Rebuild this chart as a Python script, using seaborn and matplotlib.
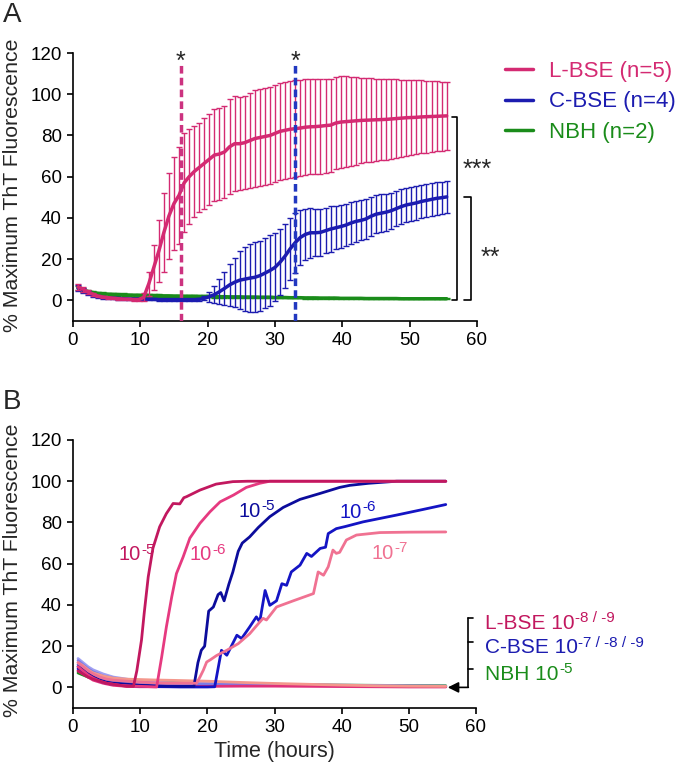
import matplotlib
matplotlib.use("Agg")
import matplotlib.pyplot as plt
import seaborn as sns
from matplotlib.lines import Line2D

# ---- Panel A: mean +/- SD, sampled every 45 min ----
hours_a = [0.75, 1.5, 2.25, 3.0, 3.75, 4.5, 5.25, 6.0, 6.75, 7.5, 8.25, 9.0, 9.75, 10.5,
           11.25, 12.0, 12.75, 13.5, 14.25, 15.0, 15.75, 16.5, 17.25, 18.0, 18.75, 19.5,
           20.25, 21.0, 21.75, 22.5, 23.25, 24.0, 24.75, 25.5, 26.25, 27.0, 27.75, 28.5,
           29.25, 30.0, 30.75, 31.5, 32.25, 33.0, 33.75, 34.5, 35.25, 36.0, 36.75, 37.5,
           38.25, 39.0, 39.75, 40.5, 41.25, 42.0, 42.75, 43.5, 44.25, 45.0, 45.75, 46.5,
           47.25, 48.0, 48.75, 49.5, 50.25, 51.0, 51.75, 52.5, 53.25, 54.0, 54.75, 55.5]

lbse_mean = [6.5, 5.5, 4, 3, 2, 1.6, 1.3, 1.0, 0.8, 0.6,
             0.5, 0.4, 0.4, 1.5, 8, 16, 24, 33, 41, 47,
             51, 57, 60, 62.5, 64.5, 66.5, 68.5, 70.5, 71, 72,
             74.5, 76, 76, 76.5, 77.5, 78.5, 79, 79.5, 80, 81,
             82, 82.5, 83, 83.3, 83.6, 84, 84.2, 84.3, 84.5, 84.8,
             85, 86, 86.5, 86.7, 86.9, 87.1, 87.3, 87.4, 87.5, 87.6,
             87.7, 87.8, 88, 88.2, 88.4, 88.6, 88.7, 88.8, 89, 89.1,
             89.2, 89.3, 89.4, 89.5]
lbse_sd = [1.5, 1.2, 1, 0.8, 0.6, 0.5, 0.5, 0.5, 0.5, 0.5,
           0.5, 0.5, 0.5, 2, 6, 11, 15, 19, 21, 22.5,
           23.5, 24, 23, 22, 21.5, 22, 22, 22.5, 22.5, 22.5,
           23, 23, 22.5, 22.5, 23, 23.5, 23.5, 23.5, 23.5, 23.5,
           23.5, 23.5, 23.5, 23.5, 23.5, 23.2, 23, 23, 23, 22.8,
           22.6, 22.4, 22.2, 22, 21.6, 21.2, 20.8, 20.5, 20.2, 20,
           19.8, 19.5, 19.2, 19, 18.7, 18.4, 18.2, 18, 17.7, 17.4,
           17.1, 16.9, 16.7, 16.5]

cbse_mean = [6, 5, 3.5, 2.5, 1.8, 1.4, 1.2, 1.0, 0.9, 0.8,
             0.7, 0.6, 0.6, 0.5, 0.5, 0.5, 0.4, 0.4, 0.4, 0.4,
             0.4, 0.4, 0.4, 0.4, 0.5, 1, 1.8, 2.8, 4.2, 5.8,
             7.5, 8.8, 9.8, 10.3, 10.8, 11.2, 12, 13.2, 14.5, 16,
             18.5, 21.5, 25, 28, 30.5, 32, 32.8, 32.8, 33, 33.8,
             34.6, 35.2, 35.8, 36.5, 37.5, 38.3, 38.8, 39.5, 40.8, 41.8,
             42.3, 42.8, 43.5, 44.5, 45.5, 46.3, 46.8, 47.3, 48, 48.5,
             49, 49.5, 49.8, 50.2]
cbse_sd = [1.5, 1.2, 1, 0.8, 0.7, 0.6, 0.6, 0.5, 0.5, 0.5,
           0.5, 0.5, 0.5, 0.5, 0.5, 0.5, 0.5, 0.5, 0.5, 0.5,
           0.5, 0.5, 0.5, 0.5, 0.6, 1, 2.5, 4, 6, 8,
           10, 12, 14, 15.5, 16.5, 17, 17, 17, 17, 16.5,
           16, 15.5, 15, 14.5, 13.5, 12.5, 12, 11.5, 11.5, 11,
           11, 10.5, 10.5, 10.3, 10.1, 9.9, 9.7, 9.6, 9.5, 9.3,
           9.1, 9, 8.8, 8.6, 8.5, 8.4, 8.3, 8.2, 8.1, 8,
           8, 7.9, 7.8, 7.8]

nbh_mean = [6, 5, 4.3, 3.8, 3.4, 3.2, 3.0, 2.9, 2.8, 2.7,
            2.6, 2.5, 2.5, 2.4, 2.4, 2.3, 2.3, 2.2, 2.2, 2.1,
            2.1, 2.0, 2.0, 2.0, 1.9, 1.9, 1.9, 1.8, 1.8, 1.8,
            1.7, 1.7, 1.7, 1.6, 1.6, 1.6, 1.5, 1.5, 1.5, 1.4,
            1.4, 1.4, 1.3, 1.3, 1.3, 1.2, 1.2, 1.2, 1.1, 1.1,
            1.1, 1.1, 1.0, 1.0, 1.0, 1.0, 1.0, 0.9, 0.9, 0.9,
            0.9, 0.9, 0.9, 0.9, 0.8, 0.8, 0.8, 0.8, 0.8, 0.8,
            0.8, 0.8, 0.8, 0.8]
nbh_sd = [1.2, 1.0, 0.9, 0.8, 0.8, 0.8, 0.7, 0.7, 0.7, 0.7,
          0.7, 0.7, 0.7, 0.7, 0.7, 0.6, 0.6, 0.6, 0.6, 0.6,
          0.6, 0.6, 0.5, 0.5, 0.5, 0.5, 0.5, 0.5, 0.5, 0.5,
          0.4, 0.4, 0.4, 0.4, 0.4, 0.4, 0.4, 0.4, 0.4, 0.4,
          0.3, 0.3, 0.3, 0.3, 0.3, 0.3, 0.3, 0.3, 0.3, 0.3,
          0.3, 0.3, 0.3, 0.3, 0.3, 0.3, 0.3, 0.3, 0.3, 0.3,
          0.2, 0.2, 0.2, 0.2, 0.2, 0.2, 0.2, 0.2, 0.2, 0.2,
          0.2, 0.2, 0.2, 0.2]

legend_a = ["L-BSE (n=5)", "C-BSE (n=4)", "NBH (n=2)"]
lag_times = [16, 33]  # dashed markers

# ---- Panel B: single dilutions ----
l5_t = [0.75, 1.5, 2.25, 3, 4, 5, 6, 7, 8, 9, 9.5, 10.2, 10.6, 11.2, 11.9, 12.9, 13.9,
        14.9, 15.9, 16.5, 16.9, 18.9, 21.3, 23.8, 26, 30, 40, 50, 55.5]
l5_v = [8, 6.5, 5, 4, 3, 2, 1.5, 1, 0.5, 0.5, 8, 23, 36, 53.6, 67.5, 77.9, 84.3,
        89.2, 89, 92, 92.5, 95.7, 98.6, 99.8, 100, 100, 100, 100, 100]
l6_t = [0.75, 1.5, 2.25, 3, 4, 5, 6, 7, 8, 9, 10, 11, 12.45, 13.2, 13.9, 14.7, 15.4,
        16.4, 17.4, 18.9, 20.4, 21.9, 23.9, 25.8, 27.8, 29.3, 35, 45, 55.5]
l6_v = [10, 8, 6, 4.5, 3, 2, 1.5, 1, 0.8, 0.6, 0.5, 0.4, 0.2, 14.7, 29.3, 43.9, 55.2,
        63.3, 72.4, 79.6, 85.2, 90, 93.3, 97, 99, 100, 100, 100, 100]
l7_t = [0.75, 1.5, 2.25, 3, 4, 5, 6, 8, 10, 12, 14, 16, 17.5, 18.4, 18.9, 19.4, 19.9,
        20.5, 21.4, 22.9, 24.6, 26.3, 27.8, 28.3, 28.8, 30.3, 32.8, 35.8, 36.5, 37.3,
        38.0, 38.7, 39.2, 39.7, 40.7, 42.2, 45.7, 50, 55.5]
l7_v = [12, 10, 8, 6.5, 5, 4, 3.5, 3, 2.5, 2.2, 2, 2, 2, 2, 5, 8.3, 12.3,
        13.5, 15.5, 18, 21.2, 26, 31.7, 33.5, 32.7, 39, 42, 45.5, 56, 54.4,
        58.5, 66.6, 65, 65.5, 71.5, 73.9, 75.1, 75.3, 75.4]
c5_t = [0.75, 1.5, 2.25, 3, 4, 5, 6, 8, 10, 12, 14, 16, 18.0, 18.6, 19.1, 19.6, 20.2,
        20.9, 21.6, 22.0, 22.5, 23.2, 23.8, 24.6, 25.2, 26.3, 27.6, 29.3, 31.3, 33.8,
        36.8, 39.7, 41.2, 44, 48.2, 55.5]
c5_v = [10, 8.5, 7, 5, 3.5, 2.5, 2, 1.5, 1, 0.8, 0.6, 0.5, 0.5, 12, 18, 20, 37,
        39, 45, 46, 42, 50, 56, 66, 70, 73, 77.6, 82.8, 87.3, 91.2,
        94.1, 97, 98, 99, 100, 100]
c6_t = [0.75, 1.5, 2.25, 3, 4, 5, 6, 8, 10, 12, 14, 16, 18, 20, 21.1, 22.1, 22.9, 24.4,
        25.1, 26.3, 27.3, 27.8, 28.6, 29.3, 30.3, 31.1, 31.8, 32.5, 33.8, 34.8, 35.5,
        36.8, 37.6, 38.0, 39.2, 40.5, 43.2, 48.2, 52.1, 55.5]
c6_v = [9, 7.5, 6, 4.5, 3, 2, 1.5, 1, 0.6, 0.4, 0.3, 0.2, 0.2, 0.2, 0.3, 18, 15.6, 25.3,
        23.7, 29.3, 34.2, 31.8, 47, 39.8, 42, 50.3, 49.5, 56, 59.3, 65, 63.5,
        67.4, 68, 74.6, 77, 78, 80.3, 83.6, 86.3, 88.7]

flat_t = [0.75, 1.5, 2.25, 3, 4.5, 6, 8, 10, 12, 15, 20, 25, 30, 35, 40, 45, 50, 55.5]
nbh5_v = [7, 6, 5, 4.5, 3.8, 3.3, 3, 2.8, 2.6, 2.4, 2.1, 1.8, 1.5, 1.3, 1.1, 1, 0.9, 0.8]
c7_v = [13, 11, 9, 7.5, 5.5, 4.5, 3.5, 2.5, 2, 1.8, 1.6, 1.5, 1.3, 1.1, 0.9, 0.7, 0.6, 0.5]
c8_v = [14, 12, 10, 8.5, 6.5, 5, 4, 3, 2.5, 2.2, 2, 1.8, 1.5, 1.3, 1.1, 0.9, 0.7, 0.6]
c9_v = [11, 9.5, 7.5, 6, 4, 3, 2, 1.5, 1.3, 1.2, 1.1, 1.1, 1, 0.9, 0.8, 0.7, 0.6, 0.5]
l9_v = [8, 6.5, 5, 3.5, 2, 1, 0.5, 0.3, 0.3, 0.4, 0.5, 0.6, 0.6, 0.5, 0.4, 0.3, 0.2, 0.2]
l8_v = [12, 10.5, 8.5, 7, 5.5, 4.5, 4, 3.8, 3.6, 3.4, 3, 2.4, 1.9, 1.5, 1.1, 0.8, 0.6, 0.5]

# colours
pink, blue, green = "#d42a72", "#1c1cb0", "#1a8c1a"
dark_pink, mid_pink, light_pink, salmon = "#c2185f", "#e63a80", "#f07292", "#f4978c"
dark_blue, blue2 = "#0c0c9c", "#1414c4"

sns.set_style("ticks")
plt.rcParams["font.family"] = ["Liberation Sans", "DejaVu Sans"]


def label_with_exp(ax, x, y, base, exp, color, fs, efs):
    # base text plus a raised exponent (plain hyphens, like the original)
    t = ax.text(x, y, base, color=color, fontsize=fs, clip_on=False)
    ax.annotate(exp, xy=(1.0, 0.55), xycoords=t, xytext=(0.5, 0), textcoords="offset points",
                color=color, fontsize=efs, va="baseline", ha="left", annotation_clip=False)


fig = plt.figure(figsize=(6.8, 7.69), dpi=100)
axA = fig.add_axes([73 / 680, 1 - 321 / 769, 404 / 680, 268 / 769])
axB = fig.add_axes([73 / 680, 1 - 708 / 769, 403 / 680, 268 / 769])

# Panel A
for mean, sd, c in [(nbh_mean, nbh_sd, green), (cbse_mean, cbse_sd, blue), (lbse_mean, lbse_sd, pink)]:
    axA.errorbar(hours_a, mean, yerr=sd, fmt="none", ecolor=c, elinewidth=1,
                 capsize=2.5, capthick=1)
    sns.lineplot(x=hours_a, y=mean, color=c, lw=2.5, ax=axA)

axA.plot([lag_times[0]] * 2, [-10, 114], color="#cc3380", lw=2.5, ls=(0, (2.2, 1.2)), zorder=5)
axA.plot([lag_times[1]] * 2, [-10, 114], color="#2238c0", lw=2.5, ls=(0, (2.2, 1.2)), zorder=5)
for t in lag_times:
    axA.text(t, 112.5, "*", ha="center", va="baseline", fontsize=18)

# significance brackets
axA.plot([56.3, 57.1, 57.1, 56.3], [89, 89, 0, 0], color="k", lw=1.2, clip_on=False)
axA.plot([58.0, 59.1, 59.1, 58.0], [50, 50, 0, 0], color="k", lw=1.2, clip_on=False)
axA.text(57.8, 60, "***", ha="left", va="baseline", fontsize=18, clip_on=False)
axA.text(60.5, 17, "**", ha="left", va="baseline", fontsize=18, clip_on=False)

handles = [Line2D([], [], color=c, lw=2.5) for c in (pink, blue, green)]
fig.legend(handles, legend_a, loc="upper left", bbox_to_anchor=(505 / 680, 1 - 61 / 769),
           frameon=False, fontsize=16, handlelength=1.25, handletextpad=0.75,
           labelspacing=0.42, borderpad=0, borderaxespad=0,
           labelcolor=[pink, blue, green])

# Panel B
sns.lineplot(x=flat_t, y=nbh5_v, color=green, lw=2, ax=axB)
sns.lineplot(x=flat_t, y=c9_v, color="#5a5ad8", lw=2, ax=axB)
sns.lineplot(x=flat_t, y=c8_v, color="#a0a0f2", lw=2, ax=axB)
sns.lineplot(x=flat_t, y=c7_v, color="#7c7ce8", lw=2, ax=axB)
sns.lineplot(x=flat_t, y=l9_v, color="#e0307a", lw=2, ax=axB)
sns.lineplot(x=flat_t, y=l8_v, color=salmon, lw=2, ax=axB)
sns.lineplot(x=c6_t, y=c6_v, color=blue2, lw=2, ax=axB)
sns.lineplot(x=c5_t, y=c5_v, color=dark_blue, lw=2, ax=axB)
sns.lineplot(x=l7_t, y=l7_v, color=light_pink, lw=2, ax=axB)
sns.lineplot(x=l6_t, y=l6_v, color=mid_pink, lw=2, ax=axB)
sns.lineplot(x=l5_t, y=l5_v, color=dark_pink, lw=2, ax=axB)

label_with_exp(axB, 6.7, 61.7, "10", "-5", dark_pink, 14.5, 11)
label_with_exp(axB, 17.4, 61.7, "10", "-6", mid_pink, 14.5, 11)
label_with_exp(axB, 24.6, 82.7, "10", "-5", dark_blue, 14.5, 11)
label_with_exp(axB, 39.7, 82.4, "10", "-6", blue2, 14.5, 11)
label_with_exp(axB, 44.5, 62.5, "10", "-7", light_pink, 14.5, 11)

# bracket + arrow for non-seeded samples
axB.plot([58.8, 58.8], [0, 33.5], color="k", lw=1.2, clip_on=False)
for yv in (33.5, 21.9, 8.7):
    axB.plot([58.8, 59.6], [yv, yv], color="k", lw=1.2, clip_on=False)
axB.annotate("", xy=(55.8, 0), xytext=(58.86, 0), annotation_clip=False,
             arrowprops=dict(arrowstyle="-|>", color="k", lw=1.2, mutation_scale=16,
                             shrinkA=0, shrinkB=0))
label_with_exp(axB, 61.3, 28.5, "L-BSE 10", "-8 / -9", dark_pink, 15, 11)
label_with_exp(axB, 61.3, 16.5, "C-BSE 10", "-7 / -8 / -9", blue, 15, 11)
label_with_exp(axB, 61.3, 3.8, "NBH 10", "-5", green, 15, 11)

for ax in (axA, axB):
    ax.set_xlim(0, 60)
    ax.set_ylim(-10, 120)
    ax.set_xticks([0, 10, 20, 30, 40, 50, 60])
    ax.set_yticks([0, 20, 40, 60, 80, 100, 120])
    sns.despine(ax=ax)
    for s in ("left", "bottom"):
        ax.spines[s].set_linewidth(1.2)
        ax.spines[s].set_color("k")
    ax.tick_params(direction="out", length=4, width=1.2, labelsize=13.5, pad=4, colors="k")
    ax.set_ylabel("% Maximum ThT Fluorescence", fontsize=15.3)
    ax.set_xlabel("")

axA.yaxis.set_label_coords(-0.126, 0.507)
axB.yaxis.set_label_coords(-0.126, 0.515)
axB.set_xlabel("Time (hours)", fontsize=15.5)
axB.xaxis.set_label_coords(0.5, -0.125)

fig.text(0.004, 1 - 2 / 769, "A", fontsize=20, va="top")
fig.text(0.004, 1 - 389 / 769, "B", fontsize=20, va="top")

fig.savefig("out.png", dpi=100)
